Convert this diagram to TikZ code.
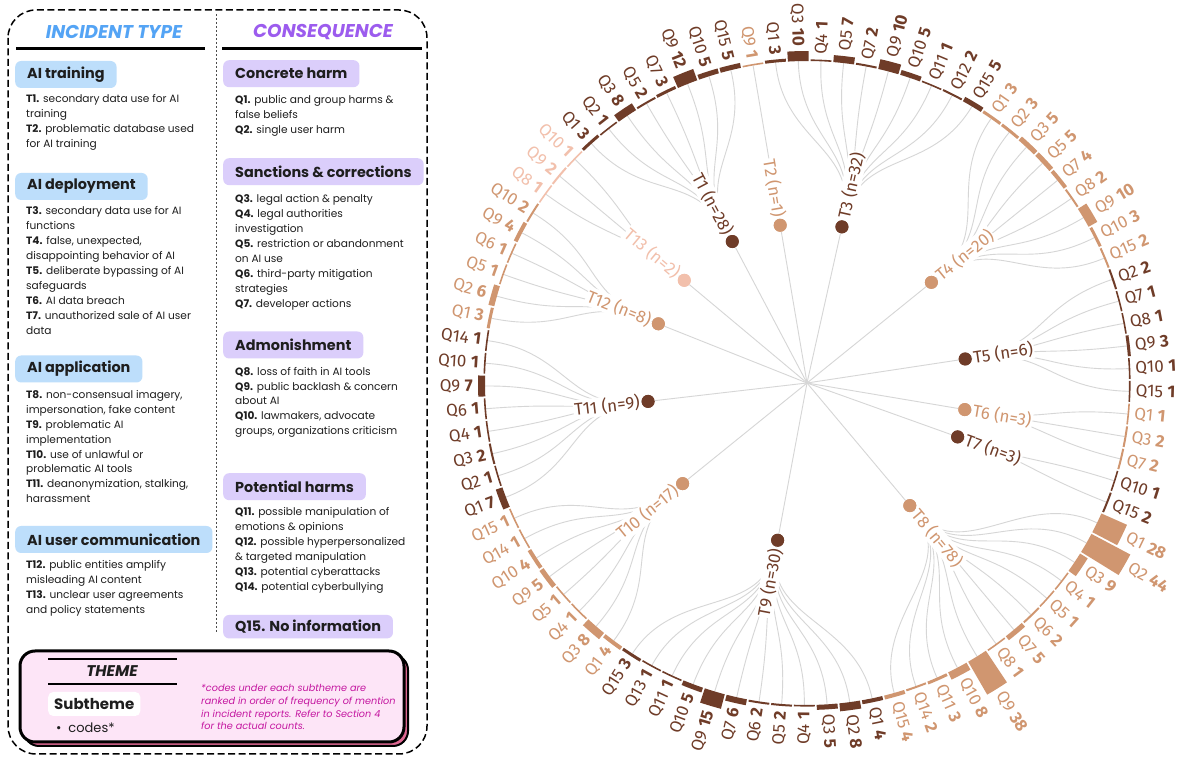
\documentclass[tikz,border=0pt]{standalone}
\usepackage{fontspec}
\setmainfont{Poppins}
\newfontfamily\plexfont{Fira Sans}
\definecolor{tdark}{RGB}{111,60,40}
\definecolor{ttan}{RGB}{208,150,112}
\definecolor{tlight}{RGB}{242,192,172}
\definecolor{linkgray}{RGB}{214,214,214}
\definecolor{boxblue}{RGB}{189,222,251}
\definecolor{headblue}{RGB}{84,164,245}
\definecolor{boxlav}{RGB}{219,206,251}
\definecolor{headpurp}{RGB}{156,92,238}
\definecolor{legpink}{RGB}{253,229,247}
\definecolor{legshadow}{RGB}{222,104,146}
\definecolor{magtext}{RGB}{196,22,160}
\definecolor{inktext}{RGB}{30,30,30}
\colorlet{c1}{tdark}\colorlet{c2}{ttan}\colorlet{c3}{tdark}\colorlet{c4}{ttan}
\colorlet{c5}{tdark}\colorlet{c6}{ttan}\colorlet{c7}{tdark}\colorlet{c8}{ttan}
\colorlet{c9}{tdark}\colorlet{c10}{ttan}\colorlet{c11}{tdark}\colorlet{c12}{ttan}
\colorlet{c13}{tlight}
\def\leafdata{1/1/3,1/2/1,1/3/8,1/5/2,1/7/3,1/9/12,1/10/5,1/15/5,2/9/1,3/1/3,3/3/10,3/4/1,3/5/7,3/7/2,3/9/10,3/10/5,3/11/1,3/12/2,3/15/5,4/1/3,4/2/3,4/3/5,4/5/5,4/7/4,4/8/2,4/9/10,4/10/3,4/15/2,5/2/2,5/7/1,5/8/1,5/9/3,5/10/1,5/15/1,6/1/1,6/3/2,6/7/2,7/10/1,7/15/2,8/1/28,8/2/44,8/3/9,8/4/1,8/5/1,8/6/2,8/7/5,8/8/1,8/9/38,8/10/8,8/11/3,8/14/2,8/15/4,9/1/4,9/2/8,9/3/5,9/4/1,9/5/2,9/6/2,9/7/6,9/9/15,9/10/5,9/11/1,9/13/1,9/15/3,10/1/4,10/3/8,10/4/1,10/5/1,10/9/5,10/10/4,10/14/1,10/15/1,11/1/7,11/2/1,11/3/2,11/4/1,11/6/1,11/9/7,11/10/1,11/14/1,12/1/3,12/2/6,12/5/1,12/6/1,12/9/4,12/10/2,13/8/1,13/9/2,13/10/1}
\def\tangs{{0,117.84,99.64,77.39,38.97,8.63,-9.57,-19.69,-50.02,-100.58,-141.03,-173.39,158.29,140.09}}
\tikzset{
  leaflab/.style={font=\plexfont\fontsize{17}{17}\selectfont, inner sep=0pt},
  tlab/.style={font=\plexfont\fontsize{17}{17}\selectfont, fill=white, inner sep=1.2pt},
  linkline/.style={draw=linkgray, line width=0.9pt},
  tdot/.style={circle, inner sep=0pt, minimum size=13pt},
  bluebox/.style={fill=boxblue, rounded corners=6pt, anchor=west, inner xsep=12pt, inner ysep=0pt, minimum height=27pt, font=\bfseries\fontsize{14.4}{14.4}\selectfont, text=inktext},
  lavbox/.style={bluebox, fill=boxlav},
  itemtxt/.style={font=\fontsize{10.6}{12}\selectfont, anchor=base west, inner sep=0pt, text=inktext},
  notetxt/.style={font=\itshape\fontsize{9.7}{11}\selectfont, anchor=base west, inner sep=0pt, text=magtext},
  heading/.style={font=\bfseries\itshape\fontsize{18.5}{18.5}\selectfont, inner sep=0pt},
}
\newcommand\itemblock[4]{%
  \foreach \lineitem [count=\k from 0] in {#4} {\node[itemtxt] (#1\k) at (#2,#3+\k*14.9) {\lineitem};}}
\newcommand\noteblock[4]{%
  \foreach \lineitem [count=\k from 0] in {#4} {\node[notetxt] (#1\k) at (#2,#3+\k*12.6) {\lineitem};}}
\begin{document}
\begin{tikzpicture}[x=1pt,y=1pt]
\useasboundingbox (0,0) rectangle (1192,757);
\fill[white] (0,0) rectangle (1192,757);
% ---------------- radial tree ----------------
\begin{scope}[shift={(807,374)}]
  \coordinate (C) at (0,0);
  \foreach \tg in {1,...,13}{
    \pgfmathsetmacro\ta{\tangs[\tg]}
    \node[tdot, fill=c\tg] (T\tg) at (\ta:160) {};
  }
  \foreach \tg in {1,...,13}{\draw[linkline] (C) -- (T\tg);}
  \foreach \tg/\q/\cnt [count=\ix from 0] in \leafdata {
    \pgfmathsetmacro\ta{\tangs[\tg]}
    \pgfmathsetmacro\lang{132-\ix*4.044944}
    \coordinate (L\ix) at (\lang:322);
    \draw[linkline] (T\tg) .. controls (\ta:241) and (\lang:241) .. (L\ix);
  }
  \foreach \tg/\q/\cnt [count=\ix from 0] in \leafdata {
    \pgfmathsetmacro\lang{132-\ix*4.044944}
    \pgfmathsetmacro\angA{\lang+1.85}
    \pgfmathsetmacro\angB{\lang-1.85}
    \pgfmathsetmacro\ro{322+max(\cnt,1.6)}
    \pgfmathsetmacro\rl{\ro+5}
    \fill[fill=c\tg] (\angA:322) arc[start angle=\angA, end angle=\angB, radius=322] -- (\angB:\ro) arc[start angle=\angB, end angle=\angA, radius=\ro] -- cycle;
    \pgfmathtruncatemacro\isright{(\lang>-90)*(\lang<90)}
    \ifnum\isright=1
      \node[leaflab, text=c\tg, rotate=\lang, anchor=west] (Q\ix) at (\lang:\rl) {Q\q\ \textbf{\cnt}};
    \else
      \pgfmathsetmacro\lrot{\lang+180}
      \node[leaflab, text=c\tg, rotate=\lrot, anchor=east] (Q\ix) at (\lang:\rl) {Q\q\ \textbf{\cnt}};
    \fi
  }
  \foreach \tg/\nn in {1/28,2/1,3/32,4/20,5/6,6/3,7/3,8/78,9/30,10/17,11/9,12/8,13/2} {
    \pgfmathsetmacro\ta{\tangs[\tg]}
    \pgfmathtruncatemacro\isright{(\ta>-90)*(\ta<90)}
    \ifnum\isright=1
      \node[tlab, text=c\tg, rotate=\ta, anchor=west] (TL\tg) at (\ta:167) {T\tg{} (n=\nn)};
    \else
      \pgfmathsetmacro\trot{\ta+180}
      \node[tlab, text=c\tg, rotate=\trot, anchor=east] (TL\tg) at (\ta:167) {T\tg{} (n=\nn)};
    \fi
  }
  \foreach \tg in {1,...,13}{\fill[fill=c\tg] (T\tg.center) circle (6.5);}
\end{scope}
% ---------------- left panel ----------------
\begin{scope}[yshift=757pt, yscale=-1]
  \draw[line width=1.5pt, rounded corners=28pt, dash pattern=on 7pt off 3.5pt] (8,10) rectangle (427,754);
  \draw[line width=0.8pt, dash pattern=on 2.5pt off 1.5pt, black!70] (216,14) -- (216,634);
  \node[heading, text=headblue] (hInc) at (114,32) {INCIDENT TYPE};
  \node[heading, text=headpurp] (hCon) at (323,32) {CONSEQUENCE};
  \draw[line width=3pt] (16,48.5) -- (205,48.5);
  \draw[line width=3pt] (222,48.5) -- (422,48.5);
  % incident types
  \node[bluebox] (sTrain) at (15,74.5) {AI training};
  \itemblock{ia}{26}{102.5}{{\textbf{T1.} secondary data use for AI},{training},{\textbf{T2.} problematic database used},{for AI training}}
  \node[bluebox] (sDeploy) at (15,186.5) {AI deployment};
  \itemblock{ib}{26}{215}{{\textbf{T3.} secondary data use for AI},{functions},{\textbf{T4.} false, unexpected,},{disappointing behavior of AI},{\textbf{T5.} deliberate bypassing of AI},{safeguards},{\textbf{T6.} AI data breach},{\textbf{T7.} unauthorized sale of AI user},{data}}
  \node[bluebox] (sApp) at (15,369) {AI application};
  \itemblock{ic}{26}{398.5}{{\textbf{T8.} non-consensual imagery,},{impersonation, fake content},{\textbf{T9.} problematic AI},{implementation},{\textbf{T10.} use of unlawful or},{problematic AI tools},{\textbf{T11.} deanonymization, stalking,},{harassment}}
  \node[bluebox] (sComm) at (15,539.5) {AI user communication};
  \itemblock{id}{26}{568.5}{{\textbf{T12.} public entities amplify},{misleading AI content},{\textbf{T13.} unclear user agreements},{and policy statements}}
  % consequences
  \node[lavbox] (sHarm) at (223,73.7) {Concrete harm};
  \itemblock{qa}{235}{103.5}{{\textbf{Q1.} public and group harms \&},{false beliefs},{\textbf{Q2.} single user harm}}
  \node[lavbox] (sSanc) at (223,171.7) {Sanctions \& corrections};
  \itemblock{qb}{235}{203}{{\textbf{Q3.} legal action \& penalty},{\textbf{Q4.} legal authorities},{investigation},{\textbf{Q5.} restriction or abandonment},{on AI use},{\textbf{Q6.} third-party mitigation},{strategies},{\textbf{Q7.} developer actions}}
  \node[lavbox] (sAdm) at (223,345) {Admonishment};
  \itemblock{qc}{235}{375.2}{{\textbf{Q8.} loss of faith in AI tools},{\textbf{Q9.} public backlash \& concern},{about AI},{\textbf{Q10.} lawmakers, advocate},{groups, organizations criticism}}
  \node[lavbox] (sPot) at (223,486.7) {Potential harms};
  \itemblock{qd}{235}{516}{{\textbf{Q11.} possible manipulation of},{emotions \& opinions},{\textbf{Q12.} possible hyperpersonalized},{\& targeted manipulation},{\textbf{Q13.} potential cyberattacks},{\textbf{Q14.} potential cyberbullying}}
  \node[lavbox, minimum height=23.5pt] (sNone) at (223,626.7) {Q15. No information};
  % legend
  \draw[line width=2pt, fill=legshadow, rounded corners=15pt] (24,655) rectangle (408,746);
  \draw[line width=3pt, fill=legpink, rounded corners=15pt] (20,651) rectangle (404,742);
  \draw[line width=1.5pt] (48,659) -- (177,659);
  \draw[line width=1.5pt] (48,684) -- (177,684);
  \node[heading, font=\bfseries\itshape\fontsize{15.5}{15.5}\selectfont, text=inktext] (lTheme) at (112,671.5) {THEME};
  \node[fill=white, rounded corners=5pt, anchor=west, inner xsep=6pt, inner ysep=0pt, minimum height=24pt, font=\bfseries\fontsize{15}{15}\selectfont, text=inktext] (lSub) at (48,704) {Subtheme};
  \node[anchor=base west, inner sep=0pt, font=\fontsize{13}{13}\selectfont, text=inktext] (lCodes) at (56,733) {\textbullet\ \ codes*};
  \noteblock{nt}{201}{692}{{*codes under each subtheme are},{ranked in order of frequency of mention},{in incident reports. Refer to Section 4},{for the actual counts.}}
\end{scope}
\end{tikzpicture}
\end{document}
